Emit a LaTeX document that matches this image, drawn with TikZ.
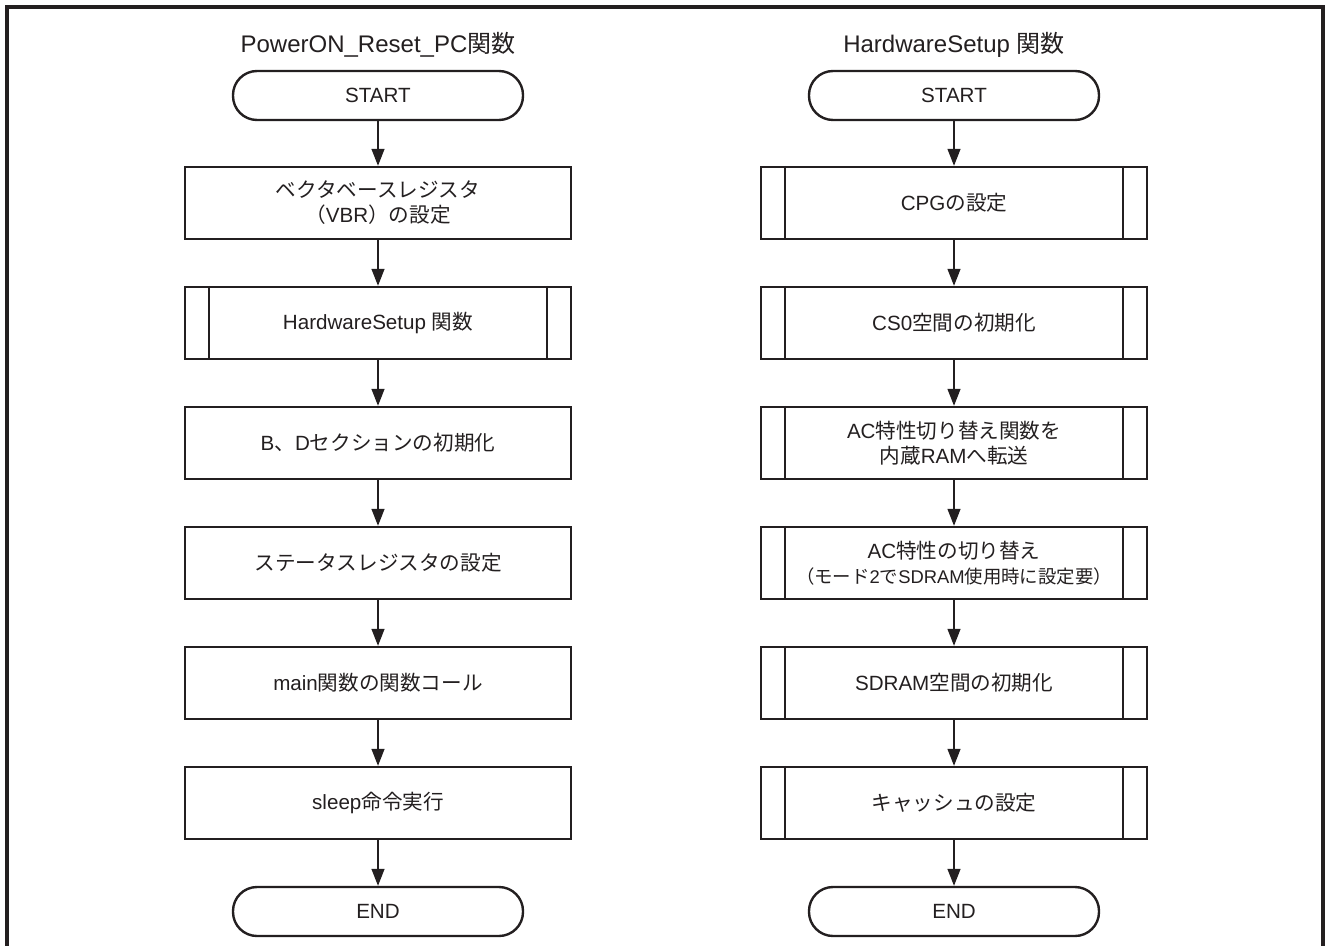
\documentclass[tikz,border=0pt]{standalone}
\usepackage{fontspec}
\setmainfont{Liberation Sans}
\newfontfamily\jp{Noto Sans CJK JP}
\newcommand{\J}[1]{{\jp #1}}
\usetikzlibrary{arrows.meta}
\definecolor{ink}{HTML}{231F20}
\begin{document}
\begin{tikzpicture}[x=0.5pt,y=-0.5pt,
  every node/.style={text=ink},
  ttl/.style={font=\fontsize{12}{14}\selectfont},
  term/.style={draw=ink, line width=1.2pt, rounded corners=12pt, minimum width=145pt, minimum height=24.5pt, inner sep=0pt, font=\fontsize{10.3}{12.5}\selectfont},
  box/.style={draw=ink, line width=1.2pt, minimum width=193pt, minimum height=36pt, inner sep=0pt, align=center, font=\fontsize{10.3}{12.5}\selectfont},
  flow/.style={draw=ink, line width=0.7pt, -{Triangle[length=8.5pt,width=6.5pt]}},
  inner/.style={draw=ink, line width=0.9pt}
]
\useasboundingbox (0,0) rectangle (1326,946);
\draw[line width=1.6pt, ink] (7,950) -- (7,7) -- (1323,7) -- (1323,950);

% left column
\node[ttl] (lt) at (378,45) {PowerON\_Reset\_PC\J{関数}};
\node[term] (ls) at (378,95.5) {START};
\node[box] (l1) at (378,203) {\J{ベクタベースレジスタ}\\\J{（}VBR\J{）の設定}};
\node[box] (l2) at (378,323) {HardwareSetup \J{関数}};
\node[box] (l3) at (378,443) {B\J{、}D\J{セクションの初期化}};
\node[box] (l4) at (378,563) {\J{ステータスレジスタの設定}};
\node[box] (l5) at (378,683) {main\J{関数の関数コール}};
\node[box] (l6) at (378,803) {sleep\J{命令実行}};
\node[term] (le) at (378,911.5) {END};

% right column
\node[ttl] (rt) at (954,45) {HardwareSetup \J{関数}};
\node[term] (rs) at (954,95.5) {START};
\node[box] (r1) at (954,203) {CPG\J{の設定}};
\node[box] (r2) at (954,323) {CS0\J{空間の初期化}};
\node[box] (r3) at (954,443) {AC\J{特性切り替え関数を}\\\J{内蔵}RAM\J{へ転送}};
\node[box] (r4) at (954,563) {AC\J{特性の切り替え}\\{\fontsize{9.2}{12.5}\selectfont\J{（モード}2\J{で}SDRAM\J{使用時に設定要）}}};
\node[box] (r5) at (954,683) {SDRAM\J{空間の初期化}};
\node[box] (r6) at (954,803) {\J{キャッシュの設定}};
\node[term] (re) at (954,911.5) {END};

% predefined-process inner lines
\foreach \n in {l2,r1,r2,r3,r4,r5,r6}{
  \draw[inner] ([xshift=12.5pt]\n.north west) -- ([xshift=12.5pt]\n.south west);
  \draw[inner] ([xshift=-12.5pt]\n.north east) -- ([xshift=-12.5pt]\n.south east);
}

% connectors
\draw[flow] (ls) -- (l1);
\draw[flow] (l1) -- (l2);
\draw[flow] (l2) -- (l3);
\draw[flow] (l3) -- (l4);
\draw[flow] (l4) -- (l5);
\draw[flow] (l5) -- (l6);
\draw[flow] (l6) -- (le);
\draw[flow] (rs) -- (r1);
\draw[flow] (r1) -- (r2);
\draw[flow] (r2) -- (r3);
\draw[flow] (r3) -- (r4);
\draw[flow] (r4) -- (r5);
\draw[flow] (r5) -- (r6);
\draw[flow] (r6) -- (re);
\end{tikzpicture}
\end{document}
